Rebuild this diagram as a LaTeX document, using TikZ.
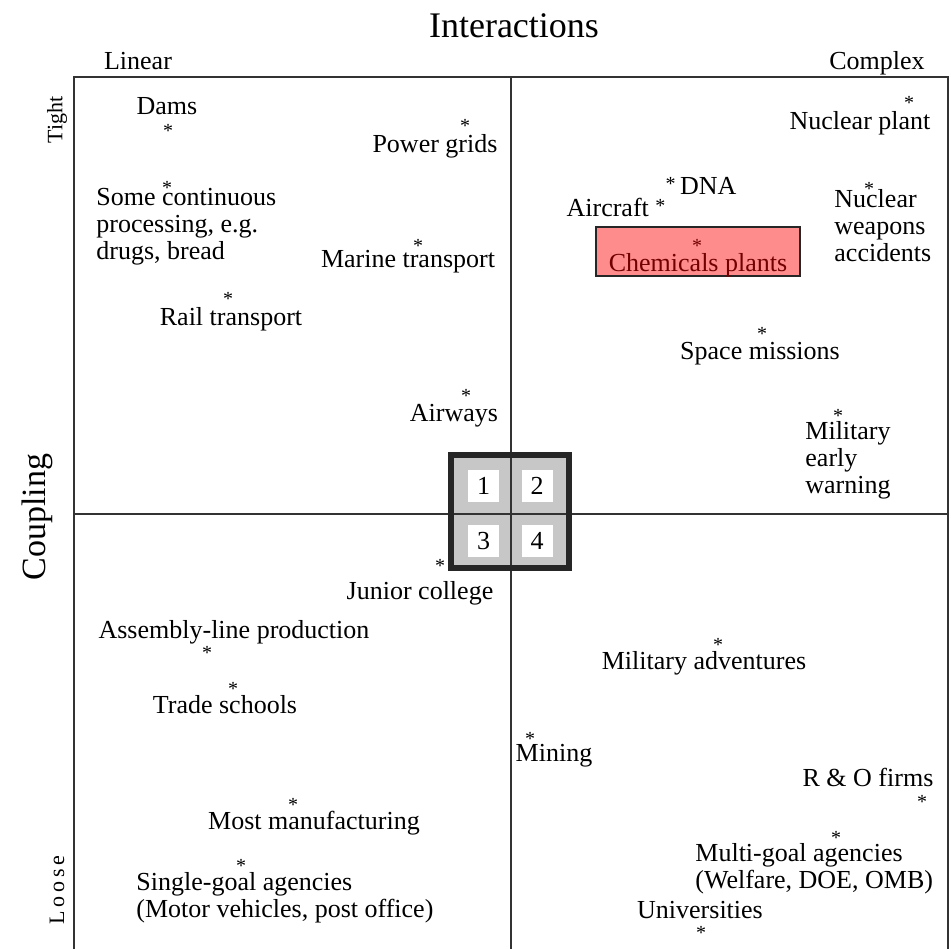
\documentclass[tikz,border=0pt]{standalone}
\usepackage{fontspec}
\setmainfont{Liberation Serif}
\newcommand\smallstar{\raisebox{1.6pt}{\fontsize{10}{11}\selectfont*}}
\begin{document}
\begin{tikzpicture}[x=0.5pt,y=-0.5pt,
  lbl/.style={inner sep=0pt, font=\fontsize{13}{13.5}\selectfont, text height=0.7em, text depth=0.2em, yshift=-1.5pt},
  multi/.style={lbl, align=left, anchor=west, text height=, text depth=},
  ast/.style={inner sep=0pt, font=\fontsize{10}{11}\selectfont, anchor=base, yshift=-5.2pt},
  grid line/.style={draw=black!80, line width=0.75pt},
  cellbox/.style={fill=white, minimum width=15.5pt, minimum height=16pt, inner sep=0pt, font=\fontsize{13}{13.5}\selectfont}]
\useasboundingbox (0,0) rectangle (951,949);

% axis titles
\node[font=\fontsize{18}{20}\selectfont, inner sep=0pt] (title) at (514,26) {Interactions};
\node[lbl] (linear) at (138,61) {Linear};
\node[lbl] (complex) at (877,61) {Complex};
\node[font=\fontsize{17}{19}\selectfont, inner sep=0pt, rotate=90] (coupling) at (37,517) {Coupling};
\node[font=\fontsize{11}{12}\selectfont, inner sep=0pt, rotate=90] (tight) at (57,120) {Tight};
\node[font=\fontsize{11}{12}\selectfont, inner sep=0pt, rotate=90] (loose) at (57,890) {L\,o\,o\,s\,e};

% frame and quadrant dividers
\coordinate (tl) at (74,77);
\coordinate (tr) at (948,77);
\coordinate (bl) at (74,949);
\coordinate (br) at (948,949);
\coordinate (vt) at (511,77);
\coordinate (vb) at (511,949);
\coordinate (hl) at (74,514);
\coordinate (hr) at (948,514);
\draw[grid line] (bl) -- (tl) -- (tr) -- (br);
\draw[grid line] (vt) -- (vb);
\draw[grid line] (hl) -- (hr);

% central 2x2 key
\fill[black!22] (451,455) rectangle (569,568);
\draw[grid line] (511,455) -- (511,568);
\draw[grid line] (451,514) -- (569,514);
\node[cellbox] (c1) at (483.5,486) {1};
\node[cellbox] (c2) at (537,486) {2};
\node[cellbox] (c3) at (483.5,541) {3};
\node[cellbox] (c4) at (537,541) {4};
\draw[black!85, line width=2.6pt] (451,455) rectangle (569,568);

% quadrant 1: linear, tight
\node[lbl] (dams) at (167,106) {Dams};
\node[ast] (damsA) at (168,127) {*};
\node[ast] (gridsA) at (465,122) {*};
\node[lbl] (grids) at (435,144) {Power grids};
\node[ast] (procA) at (167,184) {*};
\node[multi] (proc) at (96,224) {Some continuous\\processing, e.g.\\drugs, bread};
\node[ast] (marineA) at (418,242) {*};
\node[lbl] (marine) at (408,259) {Marine transport};
\node[ast] (railA) at (228,295) {*};
\node[lbl] (rail) at (231,317) {Rail transport};
\node[ast] (airA) at (466,392) {*};
\node[lbl] (air) at (454,413) {Airways};

% quadrant 2: complex, tight
\node[ast] (nucA) at (909,99) {*};
\node[lbl] (nuc) at (860,121) {Nuclear plant};
\node[lbl] (dna) at (701,186) {\smallstar\,DNA};
\node[lbl] (aircraft) at (616,208) {Aircraft \smallstar};
\node[ast] (nwA) at (869,185) {*};
\node[multi] (nw) at (834,223) {Nuclear\\weapons\\accidents};
\node[draw=black!85, fill=red!45, line width=0.6pt, minimum width=102pt, minimum height=24.5pt, inner sep=0pt] (chembox) at (698,251.5) {};
\node[ast, text=red!45!black] (chemA) at (697,242) {*};
\node[lbl, text=red!45!black] (chem) at (698,263) {Chemicals plants};
\node[ast] (spaceA) at (762,330) {*};
\node[lbl] (space) at (760,351) {Space missions};
\node[ast] (milA) at (838,412) {*};
\node[multi] (mil) at (805,457) {Military\\early\\warning};

% quadrant 3: linear, loose
\node[ast] (juniorA) at (440,562) {*};
\node[lbl] (junior) at (420,591) {Junior college};
\node[lbl] (assembly) at (234,630) {Assembly-line production};
\node[ast] (assemblyA) at (207,649) {*};
\node[ast] (tradeA) at (233,685) {*};
\node[lbl] (trade) at (225,705) {Trade schools};
\node[ast] (mostA) at (293,801) {*};
\node[lbl] (most) at (314,821) {Most manufacturing};
\node[ast] (singleA) at (241,862) {*};
\node[multi] (single) at (136,895) {Single-goal agencies\\(Motor vehicles, post office)};

% quadrant 4: complex, loose
\node[ast] (advA) at (718,641) {*};
\node[lbl] (adv) at (704,661) {Military adventures};
\node[ast] (miningA) at (530,735) {*};
\node[lbl] (mining) at (554,753) {Mining};
\node[lbl] (ro) at (868,778) {R \& O firms};
\node[ast] (roA) at (922,798) {*};
\node[ast] (multiA) at (836,834) {*};
\node[multi] (multigoal) at (695,866) {Multi-goal agencies\\(Welfare, DOE, OMB)};
\node[lbl] (univ) at (700,910) {Universities};
\node[ast] (univA) at (701,929) {*};
\end{tikzpicture}
\end{document}
